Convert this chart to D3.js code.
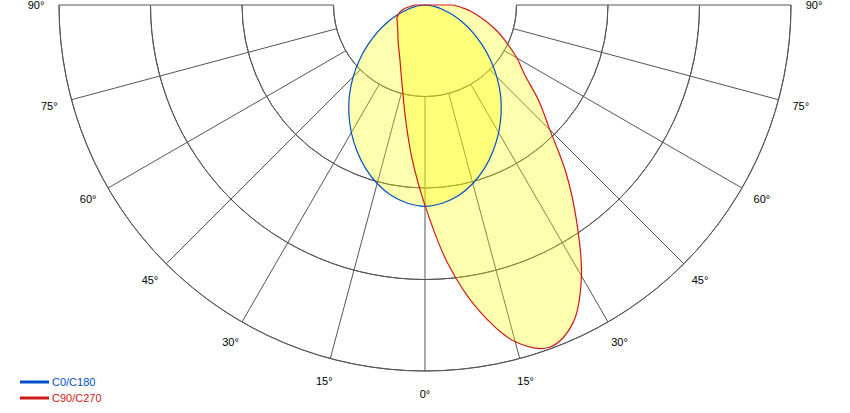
<!DOCTYPE html>
<html><head><meta charset="utf-8">
<script src="https://cdn.jsdelivr.net/npm/d3@7"></script>
<style>body{margin:0;background:#fff}svg{display:block}text{font-family:"Liberation Sans",Arial,sans-serif;font-size:11px}</style>
</head><body><svg id="c" width="850" height="413"></svg>
<script>
// gamma angles (deg, 0 = straight down, + = right side)
const angles = [-90,-85,-80,-75,-70,-65,-60,-55,-50,-45,-40,-35,-30,-25,-20,-15,-10,-5,0,5,10,15,20,25,30,35,40,45,50,55,60,65,70,75,80,85,90];
// C0/C180 intensities (symmetric), gamma 0..90
const c0c180Half = [220,217.5,211.5,202,190,176,161,145,128.5,111,93.5,76.5,60.5,46,33,21,12,5,0];
const c0c180 = angles.map(a => c0c180Half[Math.abs(a)/5]);
// C90/C270 intensities
const c90c270 = [11,16,23,28,31,34,35,37,39,42,46,51,57,65,77,95,124,167,219,283,339,381,398,383,342,289,240,193,162,133,116,99,84,69,56,43,31];
const ringValues = [100,200,300,400];
const gridAngles = [-90,-75,-60,-45,-30,-15,0,15,30,45,60,75,90];
const angleLabels = ["90°","75°","60°","45°","30°","15°","0°","15°","30°","45°","60°","75°","90°"];
const seriesNames = ["C0/C180","C90/C270"];
const seriesColors = ["#0050c8","#d01818"];

const svg = d3.select("#c");
const cx = 425, cy = 5;
const r = d3.scaleLinear().domain([0,400]).range([0,366]);
const toRad = d => (180 - d) * Math.PI / 180; // d3 radial angle convention
const g = svg.append("g").attr("transform", `translate(${cx},${cy})`);

// grid rings (lower half)
const arc = d3.arc().startAngle(Math.PI/2).endAngle(3*Math.PI/2);
g.selectAll("path.ring").data(ringValues).join("path")
  .attr("d", v => arc({innerRadius: r(v), outerRadius: r(v)}))
  .attr("fill","none").attr("stroke","#555").attr("stroke-width",1);
// radial lines
g.selectAll("line.spoke").data(gridAngles).join("line")
  .attr("x1", a => r(ringValues[0]) * Math.sin(a*Math.PI/180))
  .attr("y1", a => r(ringValues[0]) * Math.cos(a*Math.PI/180))
  .attr("x2", a => r(ringValues[3]) * Math.sin(a*Math.PI/180))
  .attr("y2", a => r(ringValues[3]) * Math.cos(a*Math.PI/180))
  .attr("stroke","#555").attr("stroke-width",1);

// curves
const line = d3.lineRadial().angle(d => toRad(d[0])).radius(d => r(d[1])).curve(d3.curveCatmullRom);
const series = [c0c180, c90c270];
series.forEach(vals => {
  g.append("path").attr("d", line(angles.map((a,i)=>[a,vals[i]])) + "Z")
    .attr("fill","#ffff00").attr("fill-opacity",0.31).attr("stroke","none");
});
series.forEach((vals,k) => {
  g.append("path").attr("d", line(angles.map((a,i)=>[a,vals[i]])) + "Z")
    .attr("fill","none").attr("stroke",seriesColors[k]).attr("stroke-width",1.2);
});

// angle labels
const lr = 389;
g.selectAll("text.lab").data(gridAngles).join("text")
  .attr("x", a => lr * Math.sin(a*Math.PI/180))
  .attr("y", a => lr * Math.cos(a*Math.PI/180))
  .attr("text-anchor","middle").attr("dy","0.35em").attr("fill","#000")
  .text((a,i) => angleLabels[i]);

// legend
const lg = svg.append("g");
seriesNames.forEach((n,i) => {
  const y = 382 + i*16;
  lg.append("line").attr("x1",20).attr("x2",49).attr("y1",y).attr("y2",y)
    .attr("stroke",seriesColors[i]).attr("stroke-width",3);
  lg.append("text").attr("x",52).attr("y",y+4).attr("fill",seriesColors[i]).text(n);
});
</script></body></html>
